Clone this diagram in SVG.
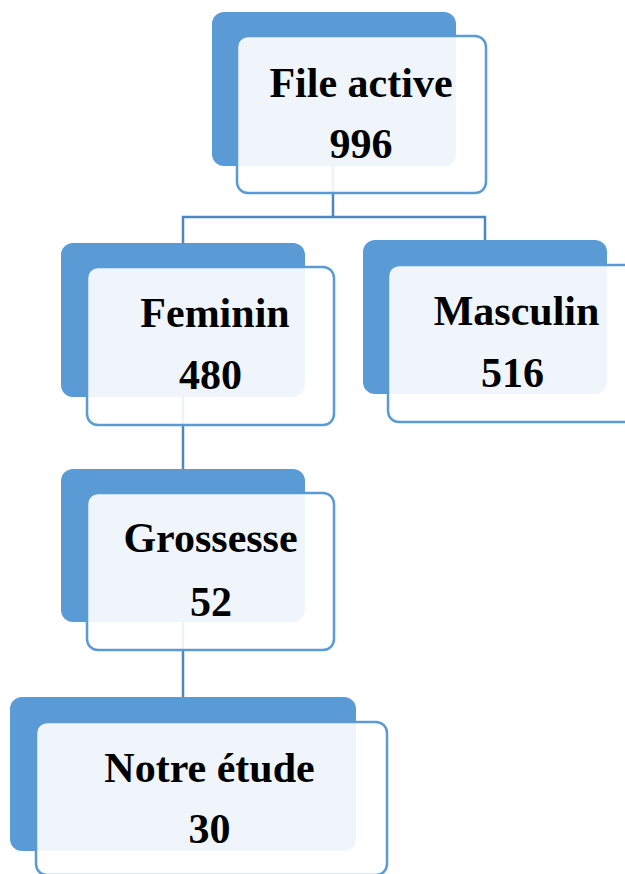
<svg xmlns="http://www.w3.org/2000/svg" width="625" height="874" viewBox="0 0 625 874">
<style>
.back{fill:#5B9BD5}
.front{fill:#FFFFFF;fill-opacity:0.9;stroke:#5B9BD5;stroke-width:2.5}
.lbl{font-family:"Liberation Serif","Times New Roman",serif;font-weight:bold;font-size:42px;fill:#000;text-anchor:middle}
.conn{fill:none;stroke:#4E86C4;stroke-width:2.5}
</style>
<rect width="625" height="874" fill="#FFFFFF"/>
<g id="connectors">
<path class="conn" d="M333,160 V217"/>
<path class="conn" d="M183,243 V217 H485 V240"/>
<path class="conn" d="M183,397 V469"/>
<path class="conn" d="M183,622 V697"/>
</g>
<g id="node-file-active">
<rect class="back" x="212" y="12" width="244" height="154" rx="12"/>
<rect class="front" x="237" y="36" width="249" height="157" rx="11"/>
<text class="lbl" x="361" y="97">File active</text>
<text class="lbl" x="361" y="158">996</text>
</g>
<g id="node-feminin">
<rect class="back" x="61" y="243" width="244" height="154" rx="12"/>
<rect class="front" x="87" y="267" width="247" height="158" rx="11"/>
<text class="lbl" x="215" y="327">Feminin</text>
<text class="lbl" x="210.5" y="389">480</text>
</g>
<g id="node-masculin">
<rect class="back" x="363" y="240" width="244" height="154" rx="12"/>
<rect class="front" x="388" y="265" width="247" height="157" rx="11"/>
<text class="lbl" x="516.5" y="325">Masculin</text>
<text class="lbl" x="512.5" y="387">516</text>
</g>
<g id="node-grossesse">
<rect class="back" x="61" y="469" width="244" height="153" rx="12"/>
<rect class="front" x="87" y="493" width="247" height="157" rx="11"/>
<text class="lbl" x="210.5" y="552">Grossesse</text>
<text class="lbl" x="211" y="616">52</text>
</g>
<g id="node-notre-etude">
<rect class="back" x="10" y="697" width="346" height="154" rx="12"/>
<rect class="front" x="36" y="722" width="351" height="153" rx="11"/>
<text class="lbl" x="209.5" y="782">Notre étude</text>
<text class="lbl" x="209.5" y="843">30</text>
</g>
</svg>
